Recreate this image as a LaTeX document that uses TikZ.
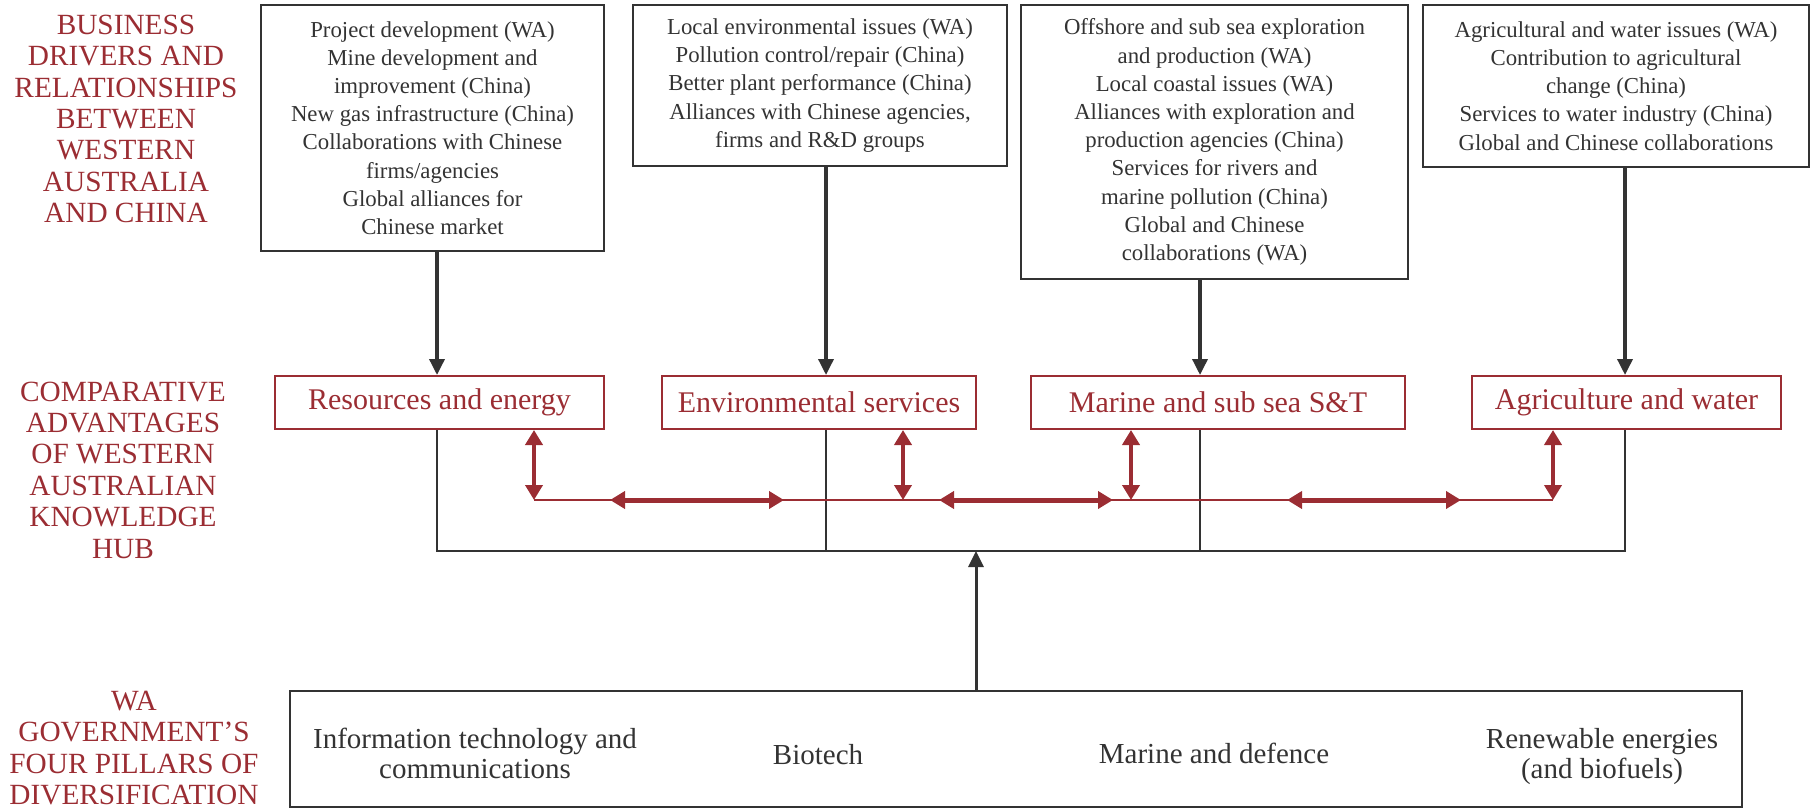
\documentclass[tikz,border=0pt]{standalone}
\usepackage{fontspec}
\setmainfont{Liberation Serif}
\usetikzlibrary{arrows.meta}
\definecolor{hubred}{HTML}{9B2D33}
\definecolor{inkgray}{HTML}{333333}

\begin{document}
\begin{tikzpicture}[x=1pt,y=-1pt,
    rowlabel/.style={text=hubred,align=center,font=\fontsize{29.3}{31.4}\selectfont},
    drvbox/.style={draw=inkgray,line width=2pt,align=center,inner sep=0pt,text=inkgray,font=\fontsize{22.8}{28.2}\selectfont},
    advbox/.style={draw=hubred,line width=2pt,inner sep=0pt,minimum height=53pt,text=hubred,font=\fontsize{30}{36}\selectfont},
    pillar/.style={align=center,text=inkgray,font=\fontsize{29}{30}\selectfont},
    feed/.style={draw=inkgray,line width=3.5pt,-{Triangle[length=16pt,width=15pt]}},
    bus/.style={draw=inkgray,line width=2pt},
    link/.style={draw=hubred,line width=2pt},
    tie/.style={draw=hubred,line width=4pt,{Triangle[length=15pt,width=17pt]}-{Triangle[length=15pt,width=17pt]}}]
        \useasboundingbox (0,0) rectangle (1812,808);

        % row labels
        \node[rowlabel] (lab_drv) at (126,119) {BUSINESS\\DRIVERS AND\\RELATIONSHIPS\\BETWEEN\\WESTERN\\AUSTRALIA\\AND CHINA};
        \node[rowlabel] (lab_adv) at (123,470) {COMPARATIVE\\ADVANTAGES\\OF WESTERN\\AUSTRALIAN\\KNOWLEDGE\\HUB};
        \node[rowlabel] (lab_pil) at (134,748) {WA\\GOVERNMENT’S\\FOUR PILLARS OF\\DIVERSIFICATION};

        % business drivers
        \node[drvbox,minimum width=343pt,minimum height=246pt] (drv1) at (432.5,128) {Project development (WA)\\Mine development and\\improvement (China)\\New gas infrastructure (China)\\Collaborations with Chinese\\firms/agencies\\Global alliances for\\Chinese market};
        \node[drvbox,minimum width=374pt,minimum height=161pt] (drv2) at (820,85.5) {Local environmental issues (WA)\\Pollution control/repair (China)\\Better plant performance (China)\\Alliances with Chinese agencies,\\firms and R\&D groups};
        \node[drvbox,minimum width=387pt,minimum height=274pt] (drv3) at (1214.5,142) {Offshore and sub sea exploration\\and production (WA)\\Local coastal issues (WA)\\Alliances with exploration and\\production agencies (China)\\Services for rivers and\\marine pollution (China)\\Global and Chinese\\collaborations (WA)};
        \node[drvbox,minimum width=386pt,minimum height=162pt] (drv4) at (1616,86) {Agricultural and water issues (WA)\\Contribution to agricultural\\change (China)\\Services to water industry (China)\\Global and Chinese collaborations};

        % knowledge hub
        \node[advbox,minimum width=329pt] (res) at (439.5,402.5) {Resources and energy};
        \node[advbox,minimum width=314pt] (env) at (819,402.5) {Environmental services};
        \node[advbox,minimum width=374pt] (mss) at (1218,402.5) {Marine and sub sea S\&T};
        \node[advbox,minimum width=309pt] (agr) at (1626.5,402.5) {Agriculture and water};

        % four pillars
        \node[draw=inkgray,line width=2pt,minimum width=1452pt,minimum height=116pt] (pillars) at (1016,748.5) {};
        \node[pillar] (itc) at (475,753) {Information technology and\\communications};
        \node[pillar] (bio) at (818,755) {Biotech};
        \node[pillar] (mad) at (1214,753) {Marine and defence};
        \node[pillar] (ren) at (1602,757) {Renewable energies\\(and biofuels)};

        \coordinate (k1) at (437,0);
        \coordinate (k2) at (826,0);
        \coordinate (k3) at (1200,0);
        \coordinate (k4) at (1625,0);
        \coordinate (k0) at (976,0);
        \coordinate (bus) at (0,551);
        \coordinate (ring) at (0,500);

        \draw[feed] (drv1.south -| k1) -- (res.north -| k1);
        \draw[feed] (drv2.south -| k2) -- (env.north -| k2);
        \draw[feed] (drv3.south -| k3) -- (mss.north -| k3);
        \draw[feed] (drv4.south -| k4) -- (agr.north -| k4);

        \draw[bus] (res.south -| k1) -- (bus -| k1) -- (bus -| k4) -- (agr.south -| k4);
        \draw[bus] (env.south -| k2) -- (bus -| k2);
        \draw[bus] (mss.south -| k3) -- (bus -| k3);
        \draw[feed,line width=3pt] (pillars.north -| k0) -- (bus -| k0);

        \draw[link] (ring -| 534,0) -- (ring -| 1553,0);
        \foreach \n/\x in {res/534,env/903,mss/1131,agr/1553}
            \draw[tie] (\n.south -| \x,0) -- (ring -| \x,0);
        \foreach \a/\b in {610/784,939/1113,1287/1461}
            \draw[tie,line width=5pt] (ring -| \a,0) -- (ring -| \b,0);
    \end{tikzpicture}
\end{document}
